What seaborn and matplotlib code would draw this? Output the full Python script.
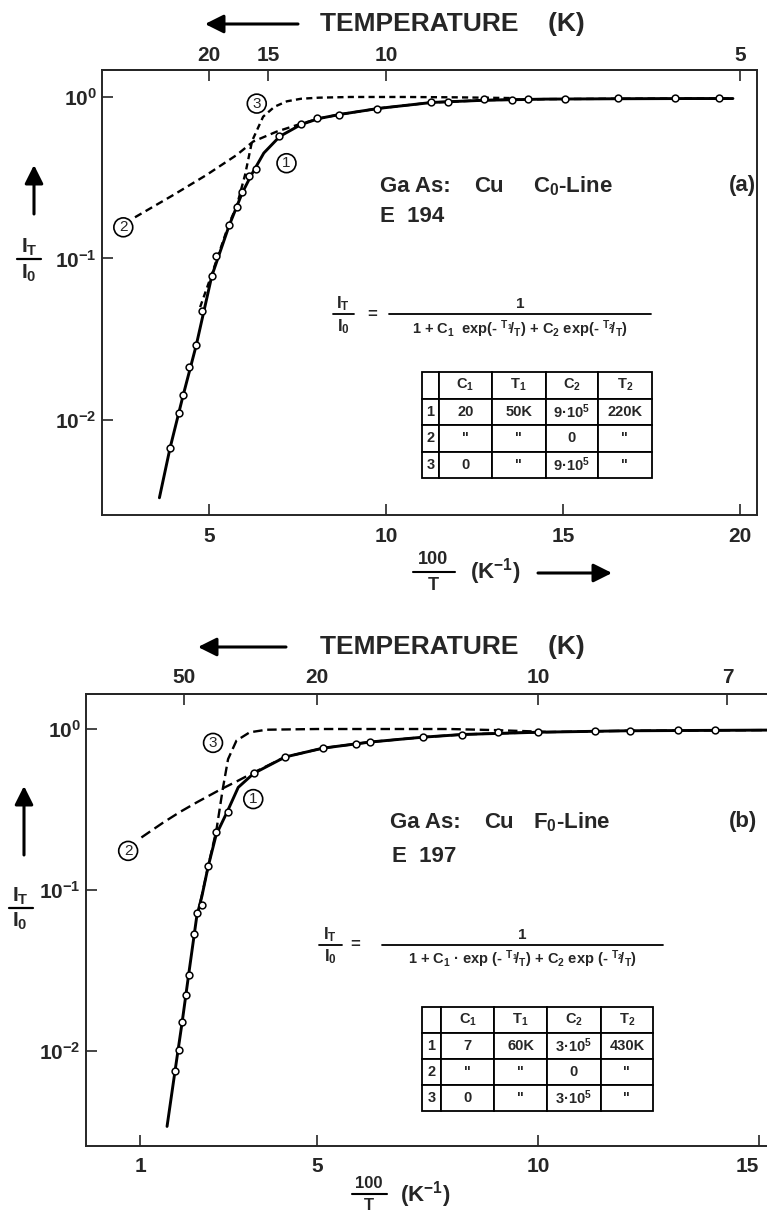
import numpy as np
import pandas as pd
import matplotlib
matplotlib.use("Agg")
import matplotlib.pyplot as plt
from matplotlib.lines import Line2D
from matplotlib.ticker import NullLocator
import seaborn as sns

# ---------------- data ----------------
# panel (a)  GaAs:Cu  C0-line
a_pts_x = [3.90, 4.16, 4.27, 4.44, 4.64, 4.80, 5.08, 5.20, 5.57, 5.78, 5.94, 6.12, 6.32,
           6.99, 7.60, 8.06, 8.66, 9.76, 11.26, 11.76, 12.78, 13.56, 14.02, 15.06, 16.54, 18.17, 19.41]
a_pts_y = [0.0067, 0.011, 0.0142, 0.0214, 0.0291, 0.0475, 0.078, 0.104, 0.161, 0.207, 0.257, 0.324, 0.36,
           0.576, 0.678, 0.738, 0.774, 0.843, 0.927, 0.935, 0.972, 0.958, 0.972, 0.972, 0.98, 0.98, 0.98]
a_c1_x = [3.60, 3.90, 4.27, 4.64, 5.08, 5.57, 5.94, 6.20, 6.55, 7.00, 7.60, 8.10, 8.70, 9.80,
          11.3, 12.8, 14.5, 16.5, 18.5, 19.8]
a_c1_y = [0.0033, 0.0067, 0.0142, 0.029, 0.078, 0.16, 0.255, 0.33, 0.45, 0.57, 0.675, 0.735, 0.78, 0.85,
          0.925, 0.955, 0.97, 0.975, 0.978, 0.978]
a_c2_x = [2.91, 3.99, 4.93, 5.78, 6.25, 6.91, 7.48, 8.10, 8.70, 9.80, 11.3, 12.8, 14.5, 16.5, 18.5, 19.8]
a_c2_y = [0.18, 0.247, 0.329, 0.437, 0.53, 0.61, 0.67, 0.735, 0.78, 0.85, 0.925, 0.955, 0.97, 0.975, 0.978, 0.978]
a_c3_x = [4.75, 5.08, 5.57, 5.78, 6.02, 6.22, 6.53, 6.85, 7.2, 7.6, 8.1, 9.0, 10.5, 12.0, 13.5]
a_c3_y = [0.05, 0.08, 0.165, 0.21, 0.33, 0.536, 0.755, 0.87, 0.94, 0.975, 0.99, 1.0, 1.0, 0.995, 0.985]
a_xticks = [5, 10, 15, 20]
a_temps = [20, 15, 10, 5]
a_table = [["", "C$_1$", "T$_1$", "C$_2$", "T$_2$"],
           ["1", "20", "50K", "9·10$^5$", "220K"],
           ["2", '"', '"', "0", '"'],
           ["3", "0", '"', "9·10$^5$", '"']]

# panel (b)  GaAs:Cu  F0-line
b_pts_x = [1.787, 1.878, 1.953, 2.036, 2.104, 2.225, 2.278, 2.398, 2.541, 2.715, 2.979, 3.567,
           4.28, 5.13, 5.88, 6.21, 7.39, 8.29, 9.10, 10.0, 11.28, 12.09, 13.16, 14.01]
b_pts_y = [0.0075, 0.0102, 0.0152, 0.0224, 0.0297, 0.0533, 0.0717, 0.0807, 0.1416, 0.230, 0.303, 0.531,
           0.673, 0.762, 0.807, 0.826, 0.888, 0.922, 0.953, 0.953, 0.976, 0.976, 0.985, 0.985]
b_c1_x = [1.61, 1.79, 1.95, 2.10, 2.28, 2.40, 2.54, 2.72, 2.98, 3.22, 3.57, 4.28, 5.13, 6.2, 7.4, 8.3,
          10.0, 12.0, 15.3]
b_c1_y = [0.0034, 0.0075, 0.015, 0.03, 0.068, 0.092, 0.14, 0.22, 0.31, 0.434, 0.53, 0.67, 0.76, 0.83, 0.89,
          0.925, 0.955, 0.975, 0.985]
b_c2_x = [1.03, 1.52, 1.90, 2.28, 2.81, 3.20, 3.56, 4.28, 5.13, 6.2, 7.4, 8.3, 10.0, 12.0, 15.3]
b_c2_y = [0.212, 0.262, 0.305, 0.35, 0.42, 0.475, 0.535, 0.67, 0.76, 0.83, 0.89, 0.925, 0.955, 0.975, 0.985]
b_c3_x = [2.30, 2.54, 2.73, 2.87, 2.99, 3.18, 3.48, 3.86, 5.0, 7.0, 8.0, 9.0, 10.2]
b_c3_y = [0.07, 0.14, 0.239, 0.424, 0.65, 0.847, 0.954, 0.99, 1.0, 1.0, 1.0, 0.985, 0.96]
b_xticks = [1, 5, 10, 15]
b_temps = [50, 20, 10, 7]
b_table = [["", "C$_1$", "T$_1$", "C$_2$", "T$_2$"],
           ["1", "7", "60K", "3·10$^5$", "430K"],
           ["2", '"', '"', "0", '"'],
           ["3", "0", '"', "3·10$^5$", '"']]

yticks = [1, 0.1, 0.01]
ytick_labels = ["10$^{0}$", "10$^{-1}$", "10$^{-2}$"]

# ---------------- style ----------------
sns.set_style("ticks")
plt.rcParams["font.family"] = ["Liberation Sans", "DejaVu Sans"]
plt.rcParams["font.weight"] = "bold"
plt.rcParams["mathtext.fontset"] = "custom"
plt.rcParams["mathtext.rm"] = "Liberation Sans:bold"
plt.rcParams["mathtext.it"] = "Liberation Sans:bold"
plt.rcParams["mathtext.bf"] = "Liberation Sans:bold"
plt.rcParams["mathtext.default"] = "rm"

W, H = 767, 1216
fig = plt.figure(figsize=(W / 100, H / 100), dpi=100)
fig.patch.set_facecolor("white")


def fx(x):
    return x / W


def fy(y):
    return 1 - y / H


def hline(x0, x1, y, lw=1.3):
    fig.add_artist(Line2D([fx(x0), fx(x1)], [fy(y), fy(y)], lw=lw, color="black",
                          transform=fig.transFigure))


def arrow(x0, y0, x1, y1, lw=2.2):
    fig.add_artist(matplotlib.patches.FancyArrowPatch(
        (fx(x0), fy(y0)), (fx(x1), fy(y1)), transform=fig.transFigure,
        arrowstyle="-|>,head_length=8,head_width=4", lw=lw, color="black",
        shrinkA=0, shrinkB=0, mutation_scale=1.4))


def ftext(x, y, s, size=12, ha="left", va="center", weight="bold"):
    fig.text(fx(x), fy(y), s, fontsize=size, ha=ha, va=va, fontweight=weight)


def curve(ax, x, y, dashes=None, lw=2.0):
    sns.lineplot(x=x, y=y, ax=ax, color="black", lw=lw, estimator=None, sort=False, legend=False)
    ln = ax.get_lines()[-1]
    if dashes is not None:
        ln.set_dashes(dashes)
    ln.set_dash_capstyle("butt")


def points(ax, x, y):
    sns.scatterplot(x=x, y=y, ax=ax, marker="o", s=24, color="black", legend=False, zorder=5)
    coll = ax.collections[-1]
    coll.set_facecolor("white")
    coll.set_edgecolor("black")
    coll.set_linewidth(1.1)


def circ(ax, x, y, s):
    ax.text(x, y, s, ha="center", va="center", fontsize=11, fontweight="normal",
            bbox=dict(boxstyle="circle,pad=0.16", fc="white", ec="black", lw=1.2), zorder=6)


def setup(ax, xlim, ylim, xticks, temps, pad_bottom, pad_top):
    ax.set_yscale("log")
    ax.set_xlim(*xlim)
    ax.set_ylim(*ylim)
    ax.set_xticks(xticks)
    ax.set_xticklabels([str(t) for t in xticks])
    ax.set_yticks(yticks)
    ax.set_yticklabels(ytick_labels)
    ax.yaxis.set_minor_locator(NullLocator())
    ax.xaxis.set_minor_locator(NullLocator())
    ax.tick_params(axis="x", direction="in", length=8, width=1.2, labelsize=15, pad=pad_bottom)
    ax.tick_params(axis="y", direction="in", length=8, width=1.2, labelsize=15, pad=3.5)
    for sp in ax.spines.values():
        sp.set_linewidth(1.4)
    sec = ax.secondary_xaxis("top")
    sec.set_xticks([100.0 / t for t in temps])
    sec.set_xticklabels([str(t) for t in temps])
    sec.xaxis.set_minor_locator(NullLocator())
    sec.tick_params(axis="x", direction="in", length=8, width=1.2, labelsize=15, pad=pad_top)
    sec.spines["top"].set_linewidth(1.4)
    ax.set_xlabel("")
    ax.set_ylabel("")


def table(ax, rows, bbox, colw):
    tbl = ax.table(cellText=rows, bbox=bbox, cellLoc="center", colWidths=colw)
    tbl.auto_set_font_size(False)
    tbl.set_fontsize(10.5)
    for cell in tbl.get_celld().values():
        cell.set_linewidth(1.3)
        cell.PAD = 0.02
        cell.get_text().set_fontweight("bold")
    tbl.set_zorder(7)


# ---------------- panel (a) ----------------
ax1 = fig.add_axes([fx(101.7), fy(515), (757 - 101.7) / W, (515 - 70) / H])
setup(ax1, (1.97, 20.48), (10 ** -2.588, 10 ** 0.167), a_xticks, a_temps, 9, 3.6)
curve(ax1, a_c1_x, a_c1_y, lw=2.1)
curve(ax1, a_c2_x, a_c2_y, dashes=(3.2, 2.0), lw=1.7)
curve(ax1, a_c3_x, a_c3_y, dashes=(2.6, 1.8), lw=1.7)
points(ax1, a_pts_x, a_pts_y)
circ(ax1, 7.19, 0.389, "1")
circ(ax1, 2.58, 0.156, "2")
circ(ax1, 6.35, 0.91, "3")
table(ax1, a_table, [0.4883, 0.0831, 0.351, 0.2382], [0.0765, 0.228, 0.234, 0.227, 0.234])

# ---------------- panel (b) ----------------
ax2 = fig.add_axes([fx(85.7), fy(1146), (767 - 85.7) / W, (1146 - 694) / H])
setup(ax2, (-0.23, 15.18), (0.00257, 1.65), b_xticks, b_temps, 8, 5)
ax2.spines["right"].set_visible(False)
ax2.get_xticklabels()[-1].set_horizontalalignment("right")
curve(ax2, b_c1_x, b_c1_y, lw=2.1)
curve(ax2, b_c2_x, b_c2_y, dashes=(4.5, 2.2), lw=1.7)
curve(ax2, b_c3_x, b_c3_y, dashes=(4.0, 2.0), lw=1.7)
points(ax2, b_pts_x, b_pts_y)
circ(ax2, 3.56, 0.367, "1")
circ(ax2, 0.73, 0.175, "2")
circ(ax2, 2.65, 0.82, "3")
table(ax2, b_table, [0.4932, 0.0781, 0.3396, 0.2301], [0.0847, 0.228, 0.2286, 0.2325, 0.226])

# ---------------- annotations panel (a) ----------------
arrow(298, 24, 205, 24)
ftext(320, 24, "TEMPERATURE    (K)", size=19)
ftext(380, 186, "Ga As:", size=16)
ftext(474, 186, "Cu", size=16)
ftext(533, 186, "C$_0$-Line", size=16)
ftext(729, 186, "(a)", size=16)
ftext(380, 217, "E  194", size=16)
# equation
ftext(343, 304, "I$_T$", size=12, ha="center")
hline(333, 354, 314)
ftext(343, 327, "I$_0$", size=12, ha="center")
ftext(372, 314, "=", size=12, ha="center")
ftext(520, 304, "1", size=11, ha="center")
hline(389, 651, 314)
ftext(520, 329, r"1 + C$_1$  exp(- ${}^{T_1}\!/_{T}$) + C$_2$ exp(- ${}^{T_2}\!/_{T}$)", size=10.5, ha="center")
# y label
arrow(34, 214, 34, 165)
ftext(29, 247, "I$_T$", size=15, ha="center")
hline(17, 41, 259, lw=1.6)
ftext(29, 273, "I$_0$", size=15, ha="center")
# x label
ftext(433, 560, "100", size=13, ha="center")
hline(413, 455, 572, lw=1.5)
ftext(433, 585, "T", size=13, ha="center")
ftext(470, 572, "(K$^{-1}$)", size=16)
arrow(538, 573, 612, 573)

# ---------------- annotations panel (b) ----------------
arrow(286, 647, 198, 647)
ftext(320, 647, "TEMPERATURE    (K)", size=19)
ftext(390, 822, "Ga As:", size=16)
ftext(484, 822, "Cu", size=16)
ftext(533, 822, "F$_0$-Line", size=16)
ftext(729, 822, "(b)", size=16)
ftext(392, 857, "E  197", size=16)
ftext(330, 935, "I$_T$", size=12, ha="center")
hline(319, 342, 945)
ftext(330, 957, "I$_0$", size=12, ha="center")
ftext(355, 945, "=", size=12, ha="center")
ftext(522, 935, "1", size=11, ha="center")
hline(382, 663, 945)
ftext(522, 959, r"1 + C$_1$ · exp (- ${}^{T_1}\!/_{T}$) + C$_2$ exp (- ${}^{T_2}\!/_{T}$)", size=10.5, ha="center")
arrow(24, 855, 24, 786)
ftext(20, 896, "I$_T$", size=15, ha="center")
hline(9, 33, 908, lw=1.6)
ftext(20, 921, "I$_0$", size=15, ha="center")
ftext(369, 1183, "100", size=12, ha="center")
hline(352, 387, 1194, lw=1.5)
ftext(369, 1206, "T", size=12, ha="center")
ftext(400, 1195, "(K$^{-1}$)", size=16)

fig.savefig("out.png", dpi=100, facecolor="white")
